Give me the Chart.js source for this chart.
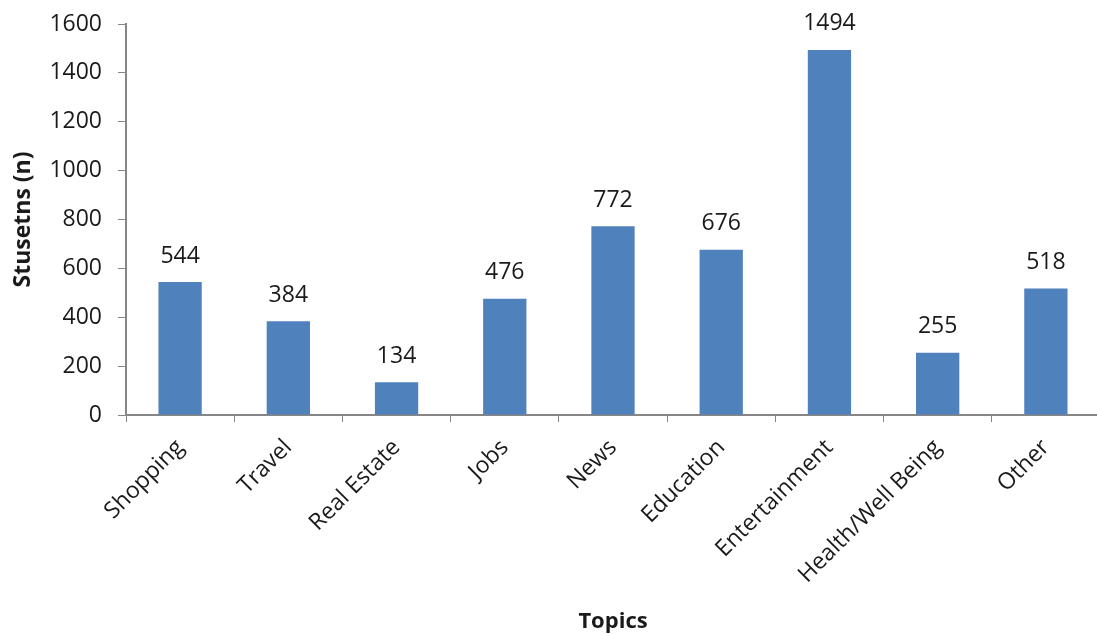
<!DOCTYPE html>
<html>
<head>
<meta charset="utf-8">
<script src="https://cdn.jsdelivr.net/npm/chart.js@4"></script>
<style>
html,body{margin:0;padding:0;background:#fff;overflow:hidden;}
#wrap{width:1097px;height:635px;position:relative;overflow:hidden;}
</style>
</head>
<body>
<div id="wrap"><canvas id="c" width="1100" height="635"></canvas></div>
<script>
const categories = ["Shopping","Travel","Real Estate","Jobs","News","Education","Entertainment","Health/Well Being","Other"];
const values = [544,384,134,476,772,676,1494,255,518];
const yTicks = [0,200,400,600,800,1000,1200,1400,1600];
const yTitle = "Stusetns (n)";
const xTitle = "Topics";

const FONT = "'Open Sans', sans-serif";
const AXIS = "#868686";
const TXT = "#1a1a1a";

const valueLabels = {
  id: 'valueLabels',
  afterDatasetsDraw(chart) {
    const ctx = chart.ctx;
    const meta = chart.getDatasetMeta(0);
    ctx.save();
    ctx.font = "23px " + FONT;
    ctx.fillStyle = TXT;
    ctx.textAlign = 'center';
    ctx.textBaseline = 'middle';
    meta.data.forEach((bar, i) => {
      ctx.fillText(String(values[i]), bar.x, bar.y - 26);
    });
    ctx.restore();
  }
};

new Chart(document.getElementById('c'), {
  type: 'bar',
  data: {
    labels: categories,
    datasets: [{
      data: values,
      backgroundColor: '#4F81BD',
      categoryPercentage: 1,
      barPercentage: 0.4
    }]
  },
  options: {
    responsive: false,
    animation: false,
    devicePixelRatio: 1,
    layout: { padding: { left: 0, right: 0, top: 24, bottom: 0 } },
    plugins: { legend: { display: false }, tooltip: { enabled: false } },
    scales: {
      x: {
        offset: true,
        grid: { display: true, drawOnChartArea: false, drawTicks: true, tickLength: 7, color: AXIS, offset: true },
        border: { display: true, color: AXIS, width: 2 },
        ticks: { color: TXT, font: { family: FONT, size: 23 }, maxRotation: 45, minRotation: 45, padding: 12, autoSkip: false },
        title: { display: true, text: xTitle, color: TXT, font: { family: FONT, size: 22, weight: 'bold' }, padding: { top: 0, bottom: 0 } },
        afterFit(s) { s.height = 220; s.paddingLeft = 0; s.paddingRight = 0; }
      },
      y: {
        min: 0, max: 1600,
        afterBuildTicks(s) { s.ticks = yTicks.map(v => ({ value: v })); },
        grid: { display: true, drawOnChartArea: false, drawTicks: true, tickLength: 8, color: AXIS },
        border: { display: true, color: AXIS, width: 2 },
        ticks: { color: TXT, font: { family: FONT, size: 23 }, padding: 16, callback: (v) => String(v) },
        title: { display: true, text: yTitle, color: TXT, font: { family: FONT, size: 23, weight: 'bold' }, padding: { top: 10, bottom: 0 } },
        afterFit(s) { s.width = 126; s.paddingTop = 0; s.paddingBottom = 0; }
      }
    }
  },
  plugins: [valueLabels]
});
</script>
</body>
</html>
